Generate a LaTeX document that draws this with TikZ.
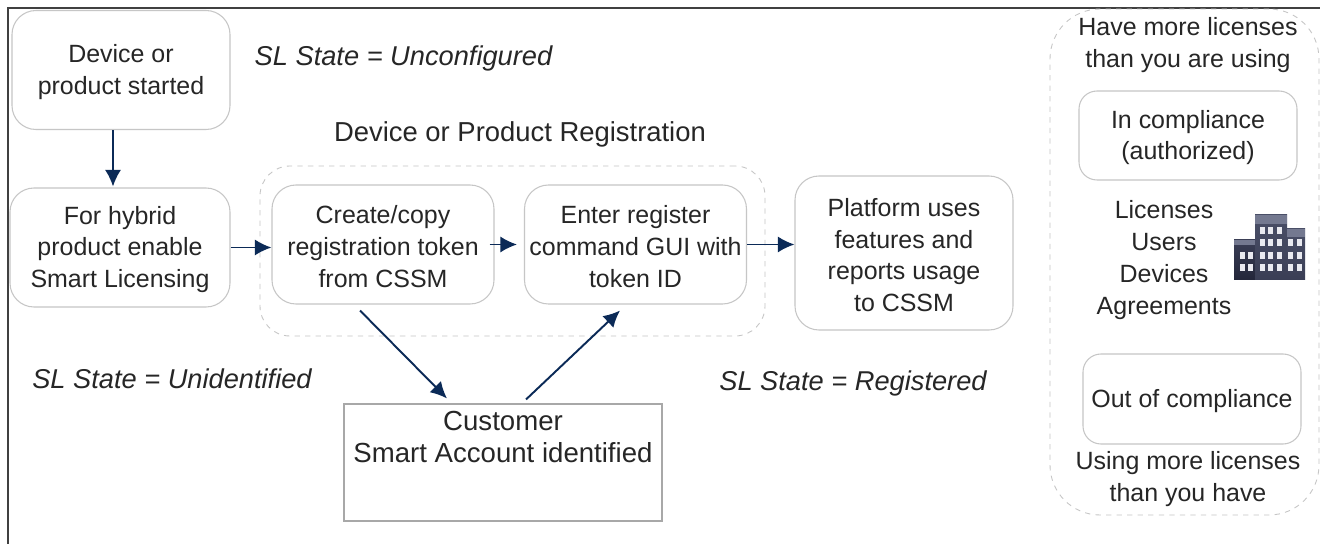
\documentclass[tikz,border=0pt]{standalone}
\usepackage{fontspec}
\setmainfont{Liberation Sans}
\usetikzlibrary{arrows.meta}
\definecolor{flowblue}{HTML}{0B2A57}
\definecolor{boxgray}{HTML}{C6C6C6}
\definecolor{inkgray}{HTML}{262626}
\definecolor{framegray}{HTML}{404040}
\definecolor{blockdark}{HTML}{23263A}
\definecolor{blockmid}{HTML}{4A4F67}
\definecolor{blocklow}{HTML}{3A3E55}
\definecolor{blockroof}{HTML}{747990}
\definecolor{blockwin}{HTML}{E9EAF0}
\tikzset{>={Latex[length=3.3mm,width=3.2mm]}}
\tikzset{flow/.style={->,flowblue,line width=1.1pt}}
\tikzset{boxtext/.style={align=center,text=inkgray,font=\fontsize{14.2}{18.1}\selectfont,inner sep=0pt}}
\tikzset{softbox/.style={draw=boxgray,line width=0.6pt,rounded corners=0.48cm,minimum width=4.36cm,minimum height=2.38cm,inner sep=0pt}}
\tikzset{softtext/.style={boxtext,yshift=-0.04cm}}
\tikzset{groupbox/.style={draw=boxgray,dashed,line width=0.5pt,inner sep=0pt}}
\tikzset{state/.style={text=inkgray,font=\fontsize{15.5}{18.1}\selectfont\itshape,inner sep=0pt}}

\begin{document}
\begin{tikzpicture}
\useasboundingbox (0,0) rectangle (26.4,10.88);
\fill [white] (0,0) rectangle (26.4,10.88);
\draw [line width=1.4pt,color=framegray] (0.16,0) -- (0.16,10.72) -- (26.4,10.72);

\node [groupbox,rounded corners=0.6cm,minimum width=10.1cm,minimum height=3.4cm] (registration) at (10.25,5.86) {};
\node [groupbox,rounded corners=1cm,minimum width=5.38cm,minimum height=10.12cm] (licensing) at (23.69,5.64) {};

\node [softbox,label={[softtext]center:{Device or\\product started}}] (started) at (2.42,9.48) {};
\node [softbox,minimum width=4.4cm,label={[softtext]center:{For hybrid\\product enable\\Smart Licensing}}] (hybrid) at (2.40,5.93) {};
\node [softbox,minimum width=4.44cm,label={[softtext]center:{Create/copy\\registration token\\from CSSM}}] (token) at (7.66,5.99) {};
\node [softbox,minimum width=4.44cm,label={[softtext]center:{Enter register\\command GUI with\\token ID}}] (enter) at (12.71,5.99) {};
\node [softbox,minimum height=3.08cm,label={[softtext]center:{Platform uses\\features and\\reports usage\\to CSSM}}] (platform) at (18.08,5.82) {};
\node [softbox,rounded corners=0.36cm,minimum height=1.78cm,label={[softtext]center:{In compliance\\(authorized)}}] (compliant) at (23.76,8.17) {};
\node [softbox,rounded corners=0.36cm,minimum height=1.8cm,label={[softtext]center:{Out of compliance}}] (outcompliant) at (23.84,2.90) {};
\node [draw=boxgray!85!black,line width=0.6pt,minimum width=6.36cm,minimum height=2.34cm] (customer) at (10.06,1.63) {};

\node [boxtext,font=\fontsize{15.7}{18.1}\selectfont] (customerlabel) at (10.06,2.14) {Customer\\Smart Account identified};
\node [boxtext] (morelicenses) at (23.76,9.98) {Have more licenses\\than you are using};
\node [boxtext] (entitlements) at (23.28,5.68) {Licenses\\Users\\Devices\\Agreements};
\node [boxtext] (fewerlicenses) at (23.76,1.30) {Using more licenses\\than you have};

\node [state] (unconfigured) at (8.07,9.72) {SL State = Unconfigured};
\node [state] (unidentified) at (3.44,3.30) {SL State = Unidentified};
\node [state] (registered) at (17.06,3.22) {SL State = Registered};
\node [state,font=\fontsize{15.6}{18.1}\selectfont] (regtitle) at (10.40,8.20) {Device or Product Registration};

\draw [flow] ([xshift=-0.16cm]started.south) -- ([xshift=-0.14cm,yshift=0.02cm]hybrid.north);
\draw [flow] (hybrid.east) -- (hybrid.east -| token.west);
\draw [flow] ([xshift=-0.1cm]token.east) -- ([xshift=-0.14cm]enter.west);
\draw [flow] (enter.east) -- (enter.east -| platform.west);
\draw [flow] ([xshift=-0.46cm,yshift=-0.12cm]token.south) -- ([xshift=-1.12cm,yshift=0.1cm]customer.north);
\draw [flow] ([xshift=0.46cm,yshift=0.08cm]customer.north) -- ([xshift=-0.31cm,yshift=-0.12cm]enter.south);

% building
\shade [top color=blocklow,bottom color=blockdark] (24.68,5.28) rectangle (25.12,6.08);
\shade [top color=blockmid,bottom color=blocklow] (25.10,5.28) rectangle (25.74,6.58);
\shade [top color=blockmid,bottom color=blocklow] (25.74,5.28) rectangle (26.10,6.30);
\fill [blockroof] (24.68,5.98) rectangle (25.10,6.08);
\fill [blockroof] (25.10,6.40) rectangle (25.74,6.58);
\fill [blockroof] (25.74,6.14) rectangle (26.10,6.30);
\foreach \winx in {25.20,25.36,25.54}
  \foreach \winy in {6.20,5.96,5.70,5.46}
    \fill [blockwin] (\winx,\winy) rectangle ++(0.10,0.14);
\foreach \winx in {25.76,25.94}
  \foreach \winy in {5.96,5.70,5.46}
    \fill [blockwin] (\winx,\winy) rectangle ++(0.10,0.14);
\foreach \winx in {24.80,24.96}
  \foreach \winy in {5.70,5.46}
    \fill [blockwin] (\winx,\winy) rectangle ++(0.10,0.14);
\end{tikzpicture}
\end{document}
